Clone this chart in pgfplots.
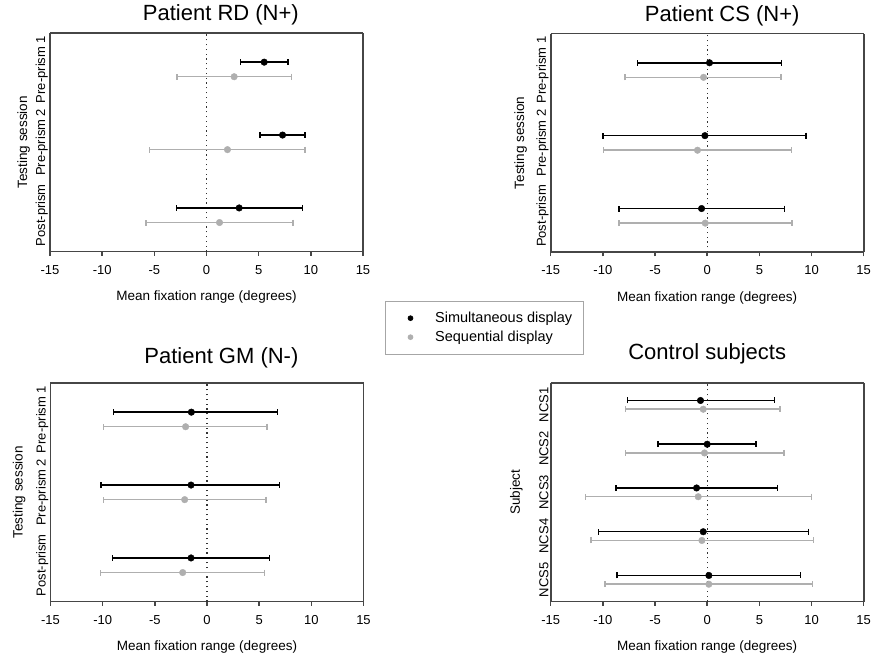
\documentclass[border=0pt]{standalone}
\usepackage{pgfplots}
\pgfplotsset{compat=1.18}
\usepackage{fontspec}
\setmainfont{Liberation Sans}
\definecolor{seqgray}{RGB}{175,175,175}
\definecolor{framegray}{RGB}{70,70,70}

\pgfplotsset{
  panel/.style={
    scale only axis, width=313pt, height=218.7pt,
    separate axis lines,
    axis line style={framegray, line width=1.6pt},
    every outer x axis line/.append style={framegray, line width=1.6pt},
    every outer y axis line/.append style={framegray, line width=1.6pt},
    xmin=-15, xmax=15, xtick={-15,-10,-5,0,5,10,15},
    xticklabels={-15,-10,-5,0,5,10,15},
    xtick pos=bottom,
    tick align=outside, major tick length=4pt,
    xtick style={framegray, line width=1.5pt},
    ytick style={draw=none},
    x tick label style={font=\fontsize{13}{15}\selectfont, yshift=-6pt},
    y tick label style={font=\fontsize{13}{15}\selectfont, rotate=90, anchor=south, inner sep=1pt},
    yticklabel shift=-3pt,
    /pgf/number format/assume math mode=true,
    xlabel={Mean fixation range (degrees)},
    xlabel style={font=\fontsize{13.5}{16}\selectfont, at={(axis description cs:0.5,-0.178)}, anchor=north, inner sep=0pt},
    title style={font=\fontsize{22}{26}\selectfont, anchor=base, inner sep=0pt},
    ylabel style={font=\fontsize{13.5}{16}\selectfont, anchor=north, inner sep=0pt},
    clip=false,
  },
  simplot/.style={black, only marks, mark=*, mark size=3.3pt,
    error bars/.cd, x dir=both, x explicit, error mark=|,
    error bar style={line width=1.5pt, black},
    error mark options={mark size=3pt, line width=1.5pt, black}},
  seqplot/.style={seqgray, only marks, mark=*, mark size=3.3pt,
    error bars/.cd, x dir=both, x explicit, error mark=|,
    error bar style={line width=1.5pt, seqgray},
    error mark options={mark size=3pt, line width=1.5pt, seqgray}},
  zeroline/.style={forget plot, black!80, line width=1.3pt, dash pattern=on 1.2pt off 3.6pt},
}

\begin{document}
\begin{tikzpicture}
\path[use as bounding box] (0pt,0pt) rectangle (883pt,658pt);

% Panel 1: Patient RD
\begin{axis}[panel, at={(50pt,406.3pt)}, anchor=south west,
  ymin=0.5, ymax=3.5, ytick={1,2,3}, yticklabels={Post-prism,Pre-prism 2,Pre-prism 1},
  ylabel={Testing session}, ylabel style={at={(axis description cs:-0.105,0.5)}},
  title={Patient RD (N+)}, title style={at={(axis description cs:0.546,1.0275)}},
  legend style={at={(axis description cs:1.0693,-0.2244)}, anchor=north west,
    draw=gray!70, line width=0.8pt, font=\fontsize{14.5}{17}\selectfont,
    inner xsep=9pt, inner ysep=9pt, row sep=3pt,
    /tikz/every odd column/.append style={column sep=20pt}},
  legend cell align=left,
  legend image code/.code={\path (-16pt,0pt) (2.3pt,0pt);\draw[#1, mark size=2.4pt] plot coordinates {(0pt,0pt)};},
]
\addplot[zeroline] coordinates {(0,0.5) (0,3.5)};
\addplot[simplot] coordinates {
  (5.53,3.1) += (2.30,0) -= (2.27,0)
  (7.29,2.1) += (2.14,0) -= (2.17,0)
  (3.13,1.1) += (6.05,0) -= (6.01,0)
};
\addlegendentry{Simultaneous display}
\addplot[seqplot] coordinates {
  (2.65,2.9) += (5.50,0) -= (5.46,0)
  (2.01,1.9) += (7.42,0) -= (7.45,0)
  (1.25,0.9) += (7.06,0) -= (7.07,0)
};
\addlegendentry{Sequential display}
\end{axis}

% Panel 2: Patient CS
\begin{axis}[panel, at={(550.7pt,405.7pt)}, anchor=south west,
  ymin=0.5, ymax=3.5, ytick={1,2,3}, yticklabels={Post-prism,Pre-prism 2,Pre-prism 1},
  ylabel={Testing session}, ylabel style={at={(axis description cs:-0.117,0.5)}},
  title={Patient CS (N+)}, title style={at={(axis description cs:0.548,1.0275)}},
]
\addplot[zeroline] coordinates {(0,0.5) (0,3.5)};
\addplot[simplot] coordinates {
  (0.22,3.1) += (6.91,0) -= (6.90,0)
  (-0.22,2.1) += (9.69,0) -= (9.79,0)
  (-0.54,1.1) += (7.93,0) -= (7.93,0)
};
\addplot[seqplot] coordinates {
  (-0.35,2.9) += (7.42,0) -= (7.52,0)
  (-0.93,1.9) += (8.99,0) -= (9.02,0)
  (-0.19,0.9) += (8.31,0) -= (8.28,0)
};
\end{axis}

% Panel 3: Patient GM
\begin{axis}[panel, at={(50.5pt,56.3pt)}, anchor=south west,
  ymin=0.5, ymax=3.5, ytick={1,2,3}, yticklabels={Post-prism,Pre-prism 2,Pre-prism 1},
  ylabel={Testing session}, ylabel style={at={(axis description cs:-0.121,0.5)}},
  title={Patient GM (N-)}, title style={at={(axis description cs:0.546,1.061)}},
]
\addplot[zeroline] coordinates {(0,0.5) (0,3.5)};
\addplot[simplot] coordinates {
  (-1.50,3.1) += (8.28,0) -= (7.45,0)
  (-1.53,2.1) += (8.50,0) -= (8.61,0)
  (-1.53,1.1) += (7.54,0) -= (7.52,0)
};
\addplot[seqplot] coordinates {
  (-2.05,2.9) += (7.81,0) -= (7.86,0)
  (-2.14,1.9) += (7.80,0) -= (7.77,0)
  (-2.33,0.9) += (7.83,0) -= (7.90,0)
};
\end{axis}

% Panel 4: Control subjects
\begin{axis}[panel, at={(550.7pt,56.3pt)}, anchor=south west,
  ymin=0.5, ymax=5.5, ytick={1,2,3,4,5}, yticklabels={NCS5,NCS4,NCS3,NCS2,NCS1},
  ylabel={Subject}, ylabel style={at={(axis description cs:-0.130,0.5)}},
  title={Control subjects}, title style={at={(axis description cs:0.5,1.081)}},
]
\addplot[zeroline] coordinates {(0,0.5) (0,5.5)};
\addplot[simplot] coordinates {
  (-0.64,5.1) += (7.10,0) -= (7.00,0)
  (0.00,4.1) += (4.70,0) -= (4.73,0)
  (-1.02,3.1) += (7.77,0) -= (7.74,0)
  (-0.38,2.1) += (10.10,0) -= (10.05,0)
  (0.16,1.1) += (8.76,0) -= (8.79,0)
};
\addplot[seqplot] coordinates {
  (-0.38,4.9) += (7.38,0) -= (7.45,0)
  (-0.26,3.9) += (7.62,0) -= (7.57,0)
  (-0.86,2.9) += (10.84,0) -= (10.81,0)
  (-0.51,1.9) += (10.71,0) -= (10.62,0)
  (0.16,0.9) += (9.95,0) -= (9.98,0)
};
\end{axis}
\end{tikzpicture}
\end{document}
